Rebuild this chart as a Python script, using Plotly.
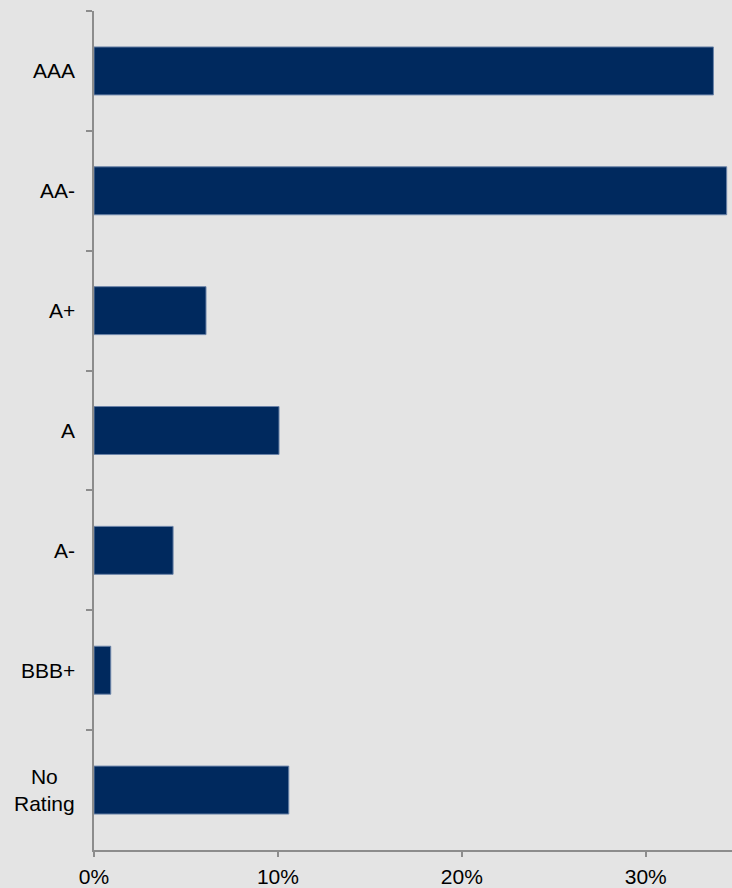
import plotly.graph_objects as go

# Share of portfolio by credit rating
ratings = ["AAA", "AA-", "A+", "A", "A-", "BBB+", "No Rating"]
rating_labels = ["AAA", "AA-", "A+", "A", "A-", "BBB+", "No<br>Rating"]
shares = [0.3368, 0.3440, 0.0609, 0.1006, 0.0430, 0.0091, 0.1059]

x_ticks = [0.0, 0.1, 0.2, 0.3]
x_tick_text = ["0%", "10%", "20%", "30%"]

BG = "#e4e4e4"
AXIS = "#8c8c8c"
FONT = "Liberation Sans, Arial, sans-serif"

fig = go.Figure(
    go.Bar(
        x=shares,
        y=ratings,
        orientation="h",
        marker=dict(color="#00295e", line=dict(color="#6a83a8", width=1)),
        hoverinfo="skip",
    )
)

# Category labels drawn as centred text blocks beside the axis
for cat, lab in zip(ratings, rating_labels):
    fig.add_annotation(
        x=0, xref="paper", y=cat, yref="y",
        text=lab, showarrow=False,
        xanchor="right", yanchor="middle", align="center",
        xshift=-17,
        font=dict(family=FONT, size=21, color="#000000"),
    )

fig.update_layout(
    width=732,
    height=888,
    margin=dict(l=94, r=0, t=11, b=38, pad=0),
    paper_bgcolor=BG,
    plot_bgcolor=BG,
    bargap=0.6,
    showlegend=False,
    font=dict(family=FONT, size=21, color="#000000"),
)

fig.update_xaxes(
    range=[0, 0.3469],
    tickvals=x_ticks,
    ticktext=x_tick_text,
    showgrid=False,
    zeroline=False,
    showline=True,
    linecolor=AXIS,
    linewidth=2,
    ticks="outside",
    ticklen=5,
    tickwidth=2,
    tickcolor=AXIS,
    ticklabelstandoff=2,
    tickfont=dict(family=FONT, size=21, color="#000000"),
)

fig.update_yaxes(
    type="category",
    autorange="reversed",
    showticklabels=False,
    showgrid=False,
    zeroline=False,
    showline=True,
    linecolor=AXIS,
    linewidth=2,
    ticks="outside",
    tickson="boundaries",
    ticklen=6,
    tickwidth=2,
    tickcolor=AXIS,
)

fig.write_html("out.html")
